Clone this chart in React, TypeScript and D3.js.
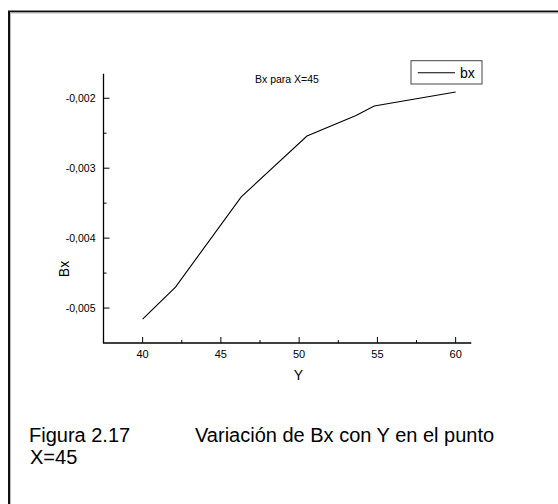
import React from "react";
import * as d3 from "d3";

const yPositions = [40, 42.1, 46.3, 50.5, 53.6, 54.8, 60];
const bxValues = [-0.00516, -0.0047, -0.00341, -0.00254, -0.00225, -0.00211, -0.00191];
const xMajorTicks = [40, 45, 50, 55, 60];
const xMinorTicks = [42.5, 47.5, 52.5, 57.5];
const yMajorTicks = [-0.005, -0.004, -0.003, -0.002];
const yMinorTicks = [-0.0045, -0.0035, -0.0025];
const seriesName = "bx";
const chartTitle = "Bx para X=45";
const xAxisLabel = "Y";
const yAxisLabel = "Bx";
const captionLine1a = "Figura 2.17";
const captionLine1b = "Variación de Bx con Y en el punto";
const captionLine2 = "X=45";

const FONT = "'Liberation Sans', Arial, Helvetica, sans-serif";

export default function App() {
  const x = d3.scaleLinear().domain([37.5, 61]).range([103.5, 471.3]);
  const y = d3.scaleLinear().domain([-0.0055, -0.00165]).range([343, 73.8]);
  const pts = yPositions.map((v, i) => [v, bxValues[i]] as [number, number]);
  const line = d3
    .line<[number, number]>()
    .x((d) => x(d[0]))
    .y((d) => y(d[1]));
  const fmt = (v: number) => d3.format(".3f")(v).replace(".", ",").replace("−", "-");
  const x0 = x.range()[0];
  const yBase = y.range()[0];

  return (
    <svg
      width={558}
      height={504}
      style={{ position: "absolute", left: 0, top: 0, background: "#fff" }}
      fontFamily={FONT}
    >
      {/* frame */}
      <line x1={9} y1={11} x2={9} y2={504} stroke="#111" strokeWidth={2} />
      <line x1={8} y1={11.5} x2={558} y2={11.5} stroke="#111" strokeWidth={2} />
      <line x1={10.5} y1={12.5} x2={10.5} y2={504} stroke="#bbb" strokeWidth={1} />
      <line x1={10} y1={13} x2={558} y2={13} stroke="#bbb" strokeWidth={1} />

      {/* axes */}
      <line x1={x0} y1={y.range()[1]} x2={x0} y2={yBase} stroke="#000" strokeWidth={1.3} />
      <line x1={x0 - 0.6} y1={yBase} x2={x.range()[1]} y2={yBase} stroke="#000" strokeWidth={1.3} />

      {xMajorTicks.map((t) => (
        <g key={"xt" + t}>
          <line x1={x(t)} x2={x(t)} y1={yBase} y2={yBase - 6} stroke="#000" strokeWidth={1} />
          <text x={x(t)} y={yBase + 15} textAnchor="middle" fontSize={11}>
            {t}
          </text>
        </g>
      ))}
      {xMinorTicks.map((t) => (
        <line key={"xm" + t} x1={x(t)} x2={x(t)} y1={yBase} y2={yBase - 3} stroke="#000" strokeWidth={1} />
      ))}
      {yMajorTicks.map((t) => (
        <g key={"yt" + t}>
          <line x1={x0} x2={x0 + 6} y1={y(t)} y2={y(t)} stroke="#000" strokeWidth={1} />
          <text x={x0 - 8} y={y(t)} dy="0.35em" textAnchor="end" fontSize={10.5}>
            {fmt(t)}
          </text>
        </g>
      ))}
      {yMinorTicks.map((t) => (
        <line key={"ym" + t} x1={x0} x2={x0 + 3} y1={y(t)} y2={y(t)} stroke="#000" strokeWidth={1} />
      ))}

      <text x={298.5} y={380} textAnchor="middle" fontSize={14}>
        {xAxisLabel}
      </text>
      <text
        transform={`translate(69,269) rotate(-90)`}
        textAnchor="middle"
        fontSize={14}
      >
        {yAxisLabel}
      </text>

      <text x={255} y={83} fontSize={10.5}>
        {chartTitle}
      </text>

      {/* data line */}
      <path d={line(pts) || ""} fill="none" stroke="#000" strokeWidth={1.1} />

      {/* legend */}
      <rect x={411} y={60.7} width={71} height={23.3} fill="#fff" stroke="#444" strokeWidth={1} />
      <line x1={417.7} x2={455} y1={72.7} y2={72.7} stroke="#000" strokeWidth={1.1} />
      <text x={460} y={77.5} fontSize={14}>
        {seriesName}
      </text>

      {/* caption */}
      <text x={29} y={441.7} fontSize={20}>
        {captionLine1a}
      </text>
      <text x={195} y={441.7} fontSize={20}>
        {captionLine1b}
      </text>
      <text x={30} y={464.3} fontSize={20}>
        {captionLine2}
      </text>
    </svg>
  );
}
